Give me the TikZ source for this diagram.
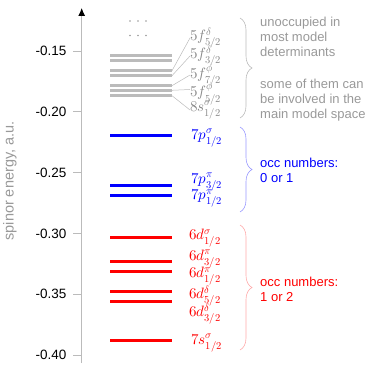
\documentclass[tikz,border=0pt]{standalone}
\usepackage{fontspec}
\setmainfont{Liberation Sans}
\usepackage{unicode-math}
\setmathfont{Latin Modern Math}
\usetikzlibrary{arrows.meta,decorations.pathreplacing}
\definecolor{lgray}{HTML}{BBBBBB}
\definecolor{tgray}{HTML}{999999}
\definecolor{mgray}{HTML}{888888}
\definecolor{lblue}{HTML}{9999FF}
\definecolor{lred}{HTML}{FFAAAA}
\tikzset{
  level/.style={line width=3pt},
  tick/.style={draw=lgray, line width=0.6pt},
  ticklabel/.style={anchor=east, inner sep=0pt, font=\fontsize{13.5}{15}\selectfont},
  mlab/.style={anchor=west, inner sep=0pt, font=\fontsize{15}{16}\selectfont},
  conn/.style={draw=lgray, line width=0.5pt},
  bracestyle/.style={decorate, decoration={brace, amplitude=12pt}, line width=0.6pt},
  note/.style={anchor=west, inner sep=0pt, align=left, font=\fontsize{13}{15}\selectfont}
}
\begin{document}
\begin{tikzpicture}[x=1pt,y=-1pt]
\useasboundingbox (0,0) rectangle (374,374);
% axis
\coordinate (ab) at (81.7,363);
\coordinate (at) at (81.7,8);
\draw[draw=lgray, line width=0.8pt, -{Latex[black,length=8pt,width=7pt]}] (ab) -- (at);
% ticks
\foreach \v/\y in {-0.15/51,-0.20/111.8,-0.25/172.6,-0.30/233.4,-0.35/294.2,-0.40/355}{
  \draw[tick] (73,\y) -- (81.7,\y);
  \node[ticklabel] at (66.5,\y) {\v};
}
\node[rotate=90, text=tgray, font=\fontsize{14.5}{16}\selectfont, inner sep=0pt] (ylab) at (10,181) {spinor energy, a.u.};
% dots
\foreach \yy in {21,35.5}{
  \foreach \xx in {130,138,146}{
    \fill[tgray] (\xx,\yy) circle (0.8);
  }
}
% gray levels
\foreach \n/\y in {1/56,2/61,3/70.7,4/75.7,5/85.7,6/90.3,7/95.7}{
  \draw[level, lgray] (110,\y) -- (172,\y) coordinate (g\n);
}
% blue levels
\foreach \n/\y in {1/136,2/185,3/195}{
  \draw[level, blue] (110,\y) -- (172,\y) coordinate (b\n);
}
% red levels
\foreach \n/\y in {1/237.3,2/261.7,3/271.7,4/291.3,5/301,6/340.3}{
  \draw[level, red] (110,\y) -- (172,\y) coordinate (r\n);
}
% f labels
\node[mlab, text=mgray] (f1) at (190,38) {$5f^{\delta}_{5/2}$};
\node[mlab, text=mgray] (f2) at (190,56) {$5f^{\delta}_{3/2}$};
\node[mlab, text=mgray] (f3) at (190,75) {$5f^{\phi}_{7/2}$};
\node[mlab, text=mgray] (f4) at (190,93.5) {$5f^{\phi}_{5/2}$};
\node[mlab, text=mgray] (f5) at (190,110) {$8s^{\sigma}_{1/2}$};
\draw[conn] (g3) -- (f1.west);
\draw[conn] (g4) -- (f2.west);
\draw[conn] (g5) -- (f3.west);
\draw[conn] (g6) -- ([yshift=4pt]f4.west);
\draw[conn] (g7) -- (f5.west);
% blue labels
\node[mlab, text=blue] (p1) at (191,138) {$7p^{\sigma}_{1/2}$};
\node[mlab, text=blue] (p2) at (191,182) {$7p^{\pi}_{3/2}$};
\node[mlab, text=blue] (p3) at (191,198.5) {$7p^{\pi}_{1/2}$};
% red labels
\node[mlab, text=red] (d1) at (189,238.5) {$6d^{\sigma}_{1/2}$};
\node[mlab, text=red] (d2) at (189,259) {$6d^{\pi}_{3/2}$};
\node[mlab, text=red] (d3) at (189,276.5) {$6d^{\pi}_{1/2}$};
\node[mlab, text=red] (d4) at (189,296) {$6d^{\delta}_{5/2}$};
\node[mlab, text=red] (d5) at (189,314) {$6d^{\delta}_{3/2}$};
\node[mlab, text=red] (s7) at (191,343) {$7s^{\sigma}_{1/2}$};
% braces
\coordinate (gbt) at (240,18); \coordinate (gbb) at (240,118);
\coordinate (bbt) at (240,127); \coordinate (bbb) at (240,212);
\coordinate (rbt) at (240,225); \coordinate (rbb) at (240,350);
\draw[bracestyle, lgray] (gbt) -- (gbb);
\draw[bracestyle, lblue] (bbt) -- (bbb);
\draw[bracestyle, lred] (rbt) -- (rbb);
% notes
\node[note, text=tgray] (n1) at (260,36.5) {unoccupied in\\most model\\determinants};
\node[note, text=tgray] (n2) at (260,100) {some of them can\\be involved in the\\main model space};
\node[note, text=blue] (n3) at (260,170.5) {occ numbers:\\0 or 1};
\node[note, text=red] (n4) at (260,289.5) {occ numbers:\\1 or 2};
\end{tikzpicture}
\end{document}
